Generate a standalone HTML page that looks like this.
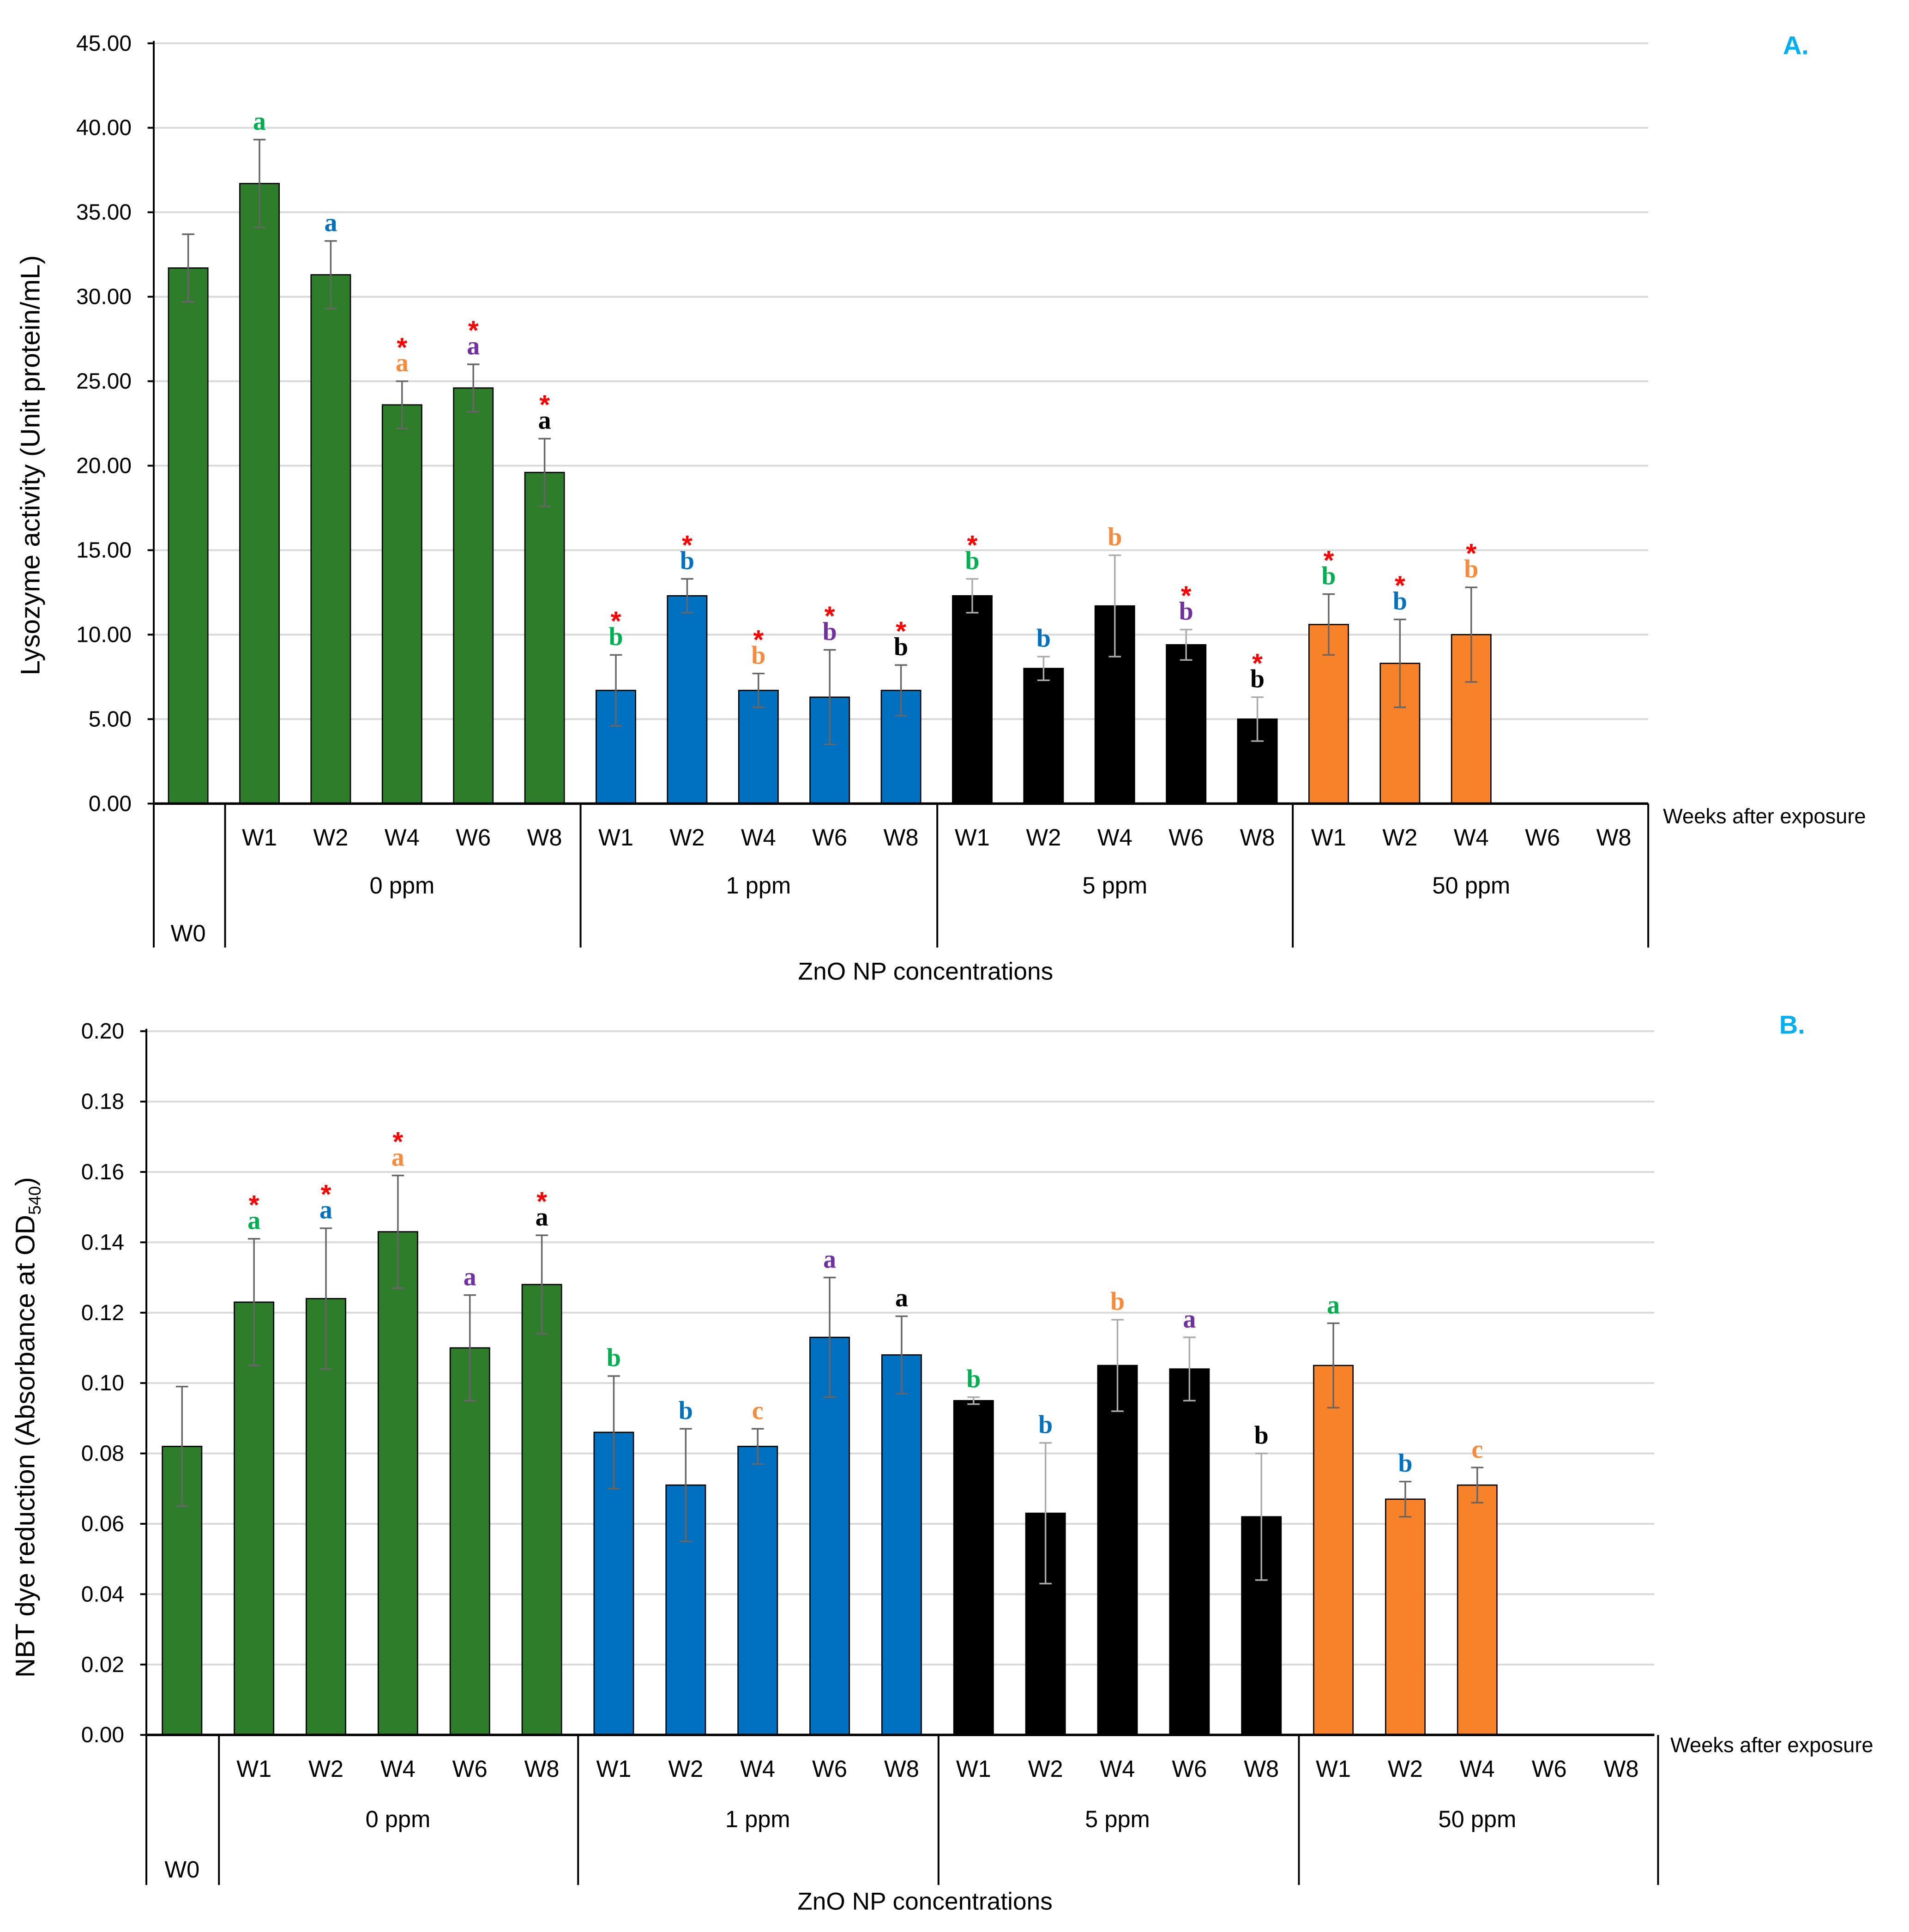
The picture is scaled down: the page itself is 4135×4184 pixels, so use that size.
<!DOCTYPE html>
<html><head><meta charset="utf-8"><style>
html,body{margin:0;padding:0;background:#fff;}
svg{display:block;font-family:"Liberation Sans",Arial,sans-serif;}
.ser{font-family:"Liberation Serif",serif;}
</style></head><body>
<svg id="chart" width="4135" height="4184" viewBox="0 0 1552 1570" xmlns="http://www.w3.org/2000/svg">
<g id="pA"></g>
<g id="pB"></g>
</svg>
<script>
const weeks = ["W0","W1","W2","W4","W6","W8","W1","W2","W4","W6","W8","W1","W2","W4","W6","W8","W1","W2","W4","W6","W8"];
const groups = ["0 ppm","1 ppm","5 ppm","50 ppm"];
const valsA = [31.7,36.7,31.3,23.6,24.6,19.6,6.7,12.3,6.7,6.3,6.7,12.3,8.0,11.7,9.4,5.0,10.6,8.3,10.0,null,null];
const errA  = [2.0,2.6,2.0,1.4,1.4,2.0,2.1,1.0,1.0,2.8,1.5,1.0,0.7,3.0,0.9,1.3,1.8,2.6,2.8,null,null];
const lettersA = ["","a","a","a","a","a","b","b","b","b","b","b","b","b","b","b","b","b","b","",""];
const starsA = [0,0,0,1,1,1,1,1,1,1,1,1,0,0,1,1,1,1,1,0,0];
const valsB = [0.082,0.123,0.124,0.143,0.110,0.128,0.086,0.071,0.082,0.113,0.108,0.095,0.063,0.105,0.104,0.062,0.105,0.067,0.071,null,null];
const errB  = [0.017,0.018,0.020,0.016,0.015,0.014,0.016,0.016,0.005,0.017,0.011,0.001,0.020,0.013,0.009,0.018,0.012,0.005,0.005,null,null];
const lettersB = ["","a","a","a","a","a","b","b","c","a","a","b","b","b","a","b","a","b","c","",""];
const starsB = [0,1,1,1,0,1,0,0,0,0,0,0,0,0,0,0,0,0,0,0,0];
const ticksA = ["0.00","5.00","10.00","15.00","20.00","25.00","30.00","35.00","40.00","45.00"];
const ticksB = ["0.00","0.02","0.04","0.06","0.08","0.10","0.12","0.14","0.16","0.18","0.20"];

const NS="http://www.w3.org/2000/svg";
const barCols=["#2e7d2a","#0070c0","#000000","#f7822a"];
const letCols=["#00b050","#0070c0","#f98a3c","#7030a0","#000000"];
function mk(p,t,a,txt){const e=document.createElementNS(NS,t);for(const k in a)e.setAttribute(k,a[k]);if(txt!==undefined)e.textContent=txt;p.appendChild(e);return e;}

function panel(g,cfg){
  const {x0,xEnd,y0,yTop,max,ticks,vals,errs,letters,stars,c0,step,bw,sep,label,title,yTitle,yTitleY,catBot,weekY,grpY,w0Y,znY,wkX,wkY,w0Sep} = cfg;
  const y=v=>y0-(v/max)*(y0-yTop);
  const x=i=>c0+i*step;
  ticks.forEach((t,i)=>{const v=max*i/(ticks.length-1);const yy=y(v);
    if(i>0){const gl=mk(g,"line",{x1:x0,x2:xEnd,y1:yy,y2:yy,stroke:"#d9d9d9","stroke-width":1.5});
    
    }
    mk(g,"line",{x1:x0-5,x2:x0,y1:yy,y2:yy,stroke:"#000","stroke-width":1.5});
    const tl=mk(g,"text",{x:x0-18,y:yy+6,"text-anchor":"end","font-size":18},t);
    
    
  });
  vals.forEach((v,i)=>{ if(v===null) return;
    const grp=i===0?0:Math.floor((i-1)/5);
    const sub=i===0?0:(i-1)%5;
    const b=mk(g,"rect",{x:x(i)-bw/2,y:y(v),width:bw,height:y0-y(v),fill:barCols[grp],stroke:"#000","stroke-width":1});
    
    
    const e=errs[i];
    const eb=mk(g,"path",{d:`M${x(i)},${y(v+e)}V${y(v-e)}M${x(i)-5},${y(v+e)}h10M${x(i)-5},${y(v-e)}h10`,stroke:grp===2?"#aaa":"#666","stroke-width":1.3,fill:"none"});
    
    
    let ty=y(v+e)-8;
    if(letters[i]){const lt=mk(g,"text",{x:x(i),y:ty,"text-anchor":"middle","font-size":21,"font-weight":"bold",fill:letCols[sub],"class":"ser"},letters[i]);
      
      
      ty-=20;}
    if(stars[i]){const st=mk(g,"text",{x:x(i),y:ty+8,"text-anchor":"middle","font-size":22,"font-weight":"bold",fill:"#ff0000"},"*");
      
      }
  });
  mk(g,"line",{x1:x0,x2:xEnd,y1:y0,y2:y0,stroke:"#000","stroke-width":2});
  mk(g,"line",{x1:x0,x2:x0,y1:yTop-2,y2:catBot,stroke:"#000","stroke-width":1.5});
  mk(g,"line",{x1:w0Sep,x2:w0Sep,y1:y0,y2:catBot,stroke:"#000","stroke-width":1.5});
  sep.forEach(s=>mk(g,"line",{x1:s,x2:s,y1:y0,y2:catBot,stroke:"#000","stroke-width":1.5}));
  weeks.forEach((w,i)=>{ if(i===0) return;
    const t=mk(g,"text",{x:x(i),y:weekY,"text-anchor":"middle","font-size":19},w);
    
    });
  const w0=mk(g,"text",{x:x(0),y:w0Y,"text-anchor":"middle","font-size":19},"W0");
  
  
  groups.forEach((gr,k)=>{const cx=(x(1+k*5)+x(5+k*5))/2;
    const t=mk(g,"text",{x:cx,y:grpY,"text-anchor":"middle","font-size":19},gr);
    
    });
  const zn=mk(g,"text",{x:(x0+xEnd)/2+20,y:znY,"text-anchor":"middle","font-size":20},"ZnO NP concentrations");
  
  
  const wk=mk(g,"text",{x:wkX,y:wkY,"font-size":17},"Weeks after exposure");
  
  
  const pl=mk(g,"text",{x:label[0],y:label[1],"text-anchor":"middle","font-size":21,"font-weight":"bold",fill:"#00b0f0"},title);
  
  
  const yt=mk(g,"text",{x:0,y:0,"text-anchor":"middle","font-size":22,transform:`translate(${cfg.yTitleX},${yTitleY}) rotate(-90)`});
  yt.innerHTML=yTitle;
  
  
}
panel(document.getElementById("pA"),{x0:125,xEnd:1340,y0:653,yTop:35,max:45,ticks:ticksA,vals:valsA,errs:errA,letters:lettersA,stars:starsA,
  c0:153,step:57.95,bw:32,sep:[472,762,1051,1340],w0Sep:183,label:[1460,44],title:"A.",yTitle:"Lysozyme activity (Unit protein/mL)",yTitleX:32,yTitleY:378,
  catBot:770,weekY:687,grpY:726,w0Y:765,znY:796,wkX:1352,wkY:669});
panel(document.getElementById("pB"),{x0:119,xEnd:1345,y0:1410,yTop:838,max:0.2,ticks:ticksB,vals:valsB,errs:errB,letters:lettersB,stars:starsB,
  c0:148,step:58.5,bw:32,sep:[470,763,1056,1348],w0Sep:178,label:[1457,840],title:"B.",yTitle:'NBT dye reduction (Absorbance at OD<tspan font-size="14" dy="5">540</tspan><tspan dy="-5">)</tspan>',yTitleX:28,yTitleY:1160,
  catBot:1532,weekY:1444,grpY:1485,w0Y:1526,znY:1552,wkX:1358,wkY:1424});
</script>
</body></html>
